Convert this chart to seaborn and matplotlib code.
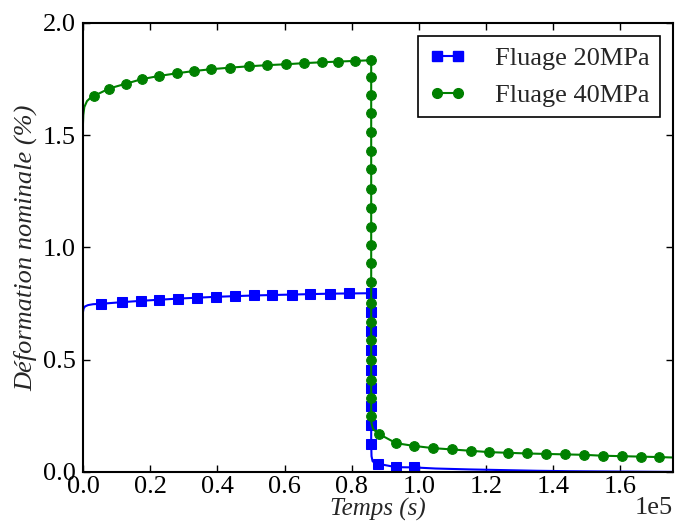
"""Courbes de fluage / recouvrance a 20 et 40 MPa."""

import matplotlib
matplotlib.use("Agg")
import matplotlib.pyplot as plt
from matplotlib.lines import Line2D
import seaborn as sns

# temps en unites de 1e5 s, deformation en %
# --- Fluage 20MPa : points marques
t20_mark = [0.055, 0.115, 0.172, 0.227, 0.283, 0.340, 0.396, 0.453, 0.510, 0.563,
            0.623, 0.677, 0.736, 0.793, 0.858,
            0.858, 0.858, 0.858, 0.858, 0.858, 0.858, 0.858, 0.858,
            0.879, 0.932, 0.984]
e20_mark = [0.749, 0.756, 0.762, 0.767, 0.772, 0.776, 0.780, 0.783, 0.786, 0.788,
            0.790, 0.792, 0.794, 0.795, 0.796,
            0.711, 0.626, 0.545, 0.455, 0.374, 0.293, 0.207, 0.124,
            0.036, 0.021, 0.020]
# --- Fluage 20MPa : courbe complete
t20_line = [0.0, 0.002, 0.006, 0.015, 0.030] + t20_mark[:23] + [0.859, 0.862, 0.868] \
    + t20_mark[23:] + [1.05, 1.15, 1.25, 1.35, 1.45, 1.55, 1.65, 1.757]
e20_line = [0.712, 0.728, 0.737, 0.743, 0.747] + e20_mark[:23] + [0.070, 0.048, 0.040] \
    + e20_mark[23:] + [0.015, 0.011, 0.008, 0.005, 0.003, 0.002, 0.001, 0.0]

# --- Fluage 40MPa : points marques
t40_mark = [0.033, 0.078, 0.129, 0.176, 0.227, 0.280, 0.331, 0.382, 0.438, 0.494,
            0.548, 0.604, 0.658, 0.712, 0.760, 0.810, 0.858,
            0.858, 0.858, 0.858, 0.858, 0.858, 0.858, 0.858, 0.858, 0.858, 0.858,
            0.858, 0.858, 0.858, 0.858, 0.858, 0.858, 0.858, 0.858, 0.858,
            0.882, 0.932, 0.984, 1.041, 1.098, 1.154, 1.210, 1.266, 1.323, 1.378,
            1.435, 1.492, 1.547, 1.604, 1.660, 1.716]
e40_mark = [1.675, 1.708, 1.730, 1.750, 1.764, 1.776, 1.786, 1.794, 1.801, 1.807,
            1.812, 1.816, 1.821, 1.825, 1.828, 1.831, 1.834,
            1.758, 1.679, 1.598, 1.515, 1.430, 1.348, 1.262, 1.177, 1.092, 1.009,
            0.932, 0.845, 0.753, 0.668, 0.586, 0.497, 0.411, 0.329, 0.247,
            0.168, 0.128, 0.116, 0.106, 0.100, 0.094, 0.088, 0.085, 0.082, 0.080,
            0.078, 0.076, 0.072, 0.070, 0.068, 0.066]
# --- Fluage 40MPa : courbe complete
t40_line = [0.0, 0.001, 0.004, 0.012, 0.022] + t40_mark[:36] + [0.859, 0.864] \
    + t40_mark[36:] + [1.757]
e40_line = [1.550, 1.590, 1.625, 1.652, 1.666] + e40_mark[:36] + [0.215, 0.190] \
    + e40_mark[36:] + [0.064]

labels = ["Fluage 20MPa", "Fluage 40MPa"]
colors = ["#0000ff", "#008000"]

sns.set_style("ticks")
plt.rcParams['font.family'] = ['Liberation Serif', 'DejaVu Serif']
plt.rcParams['mathtext.fontset'] = 'stix'

fig = plt.figure(figsize=(6.8, 5.22), dpi=100)
ax = fig.add_axes([0.122, 0.096, 0.868, 0.860])

series = [(t20_line, e20_line, t20_mark, e20_mark, 's', 7.5),
          (t40_line, e40_line, t40_mark, e40_mark, 'o', 7)]
handles = []
for (tl, el, tm, em, mk, ms), col, lab in zip(series, colors, labels):
    sns.lineplot(x=[v * 1e5 for v in tl], y=el, ax=ax, color=col, linewidth=1.5,
                 estimator=None, sort=False)
    sns.lineplot(x=[v * 1e5 for v in tm], y=em, ax=ax, color=col, linestyle='none',
                 marker=mk, markersize=ms, markeredgecolor=col,
                 estimator=None, sort=False)
    handles.append(Line2D([], [], color=col, linewidth=1.5, marker=mk,
                          markersize=ms, markeredgecolor=col))

ax.set_xlim(0, 1.757e5)
ax.set_ylim(0, 2.0)
ax.set_yticks([0, 0.5, 1.0, 1.5, 2.0])
ax.set_xticks([i * 0.2e5 for i in range(9)])
ax.ticklabel_format(axis='x', style='sci', scilimits=(0, 0))
ax.tick_params(direction='in', top=True, right=True, length=5, width=1,
               labelsize=19, pad=5, colors='black')
ax.tick_params(axis='x', pad=3)
ax.xaxis.get_offset_text().set_visible(False)
ax.text(1.0, -0.055, "1e5", transform=ax.transAxes, ha='right', va='top', fontsize=19)
for sp in ax.spines.values():
    sp.set_linewidth(1.5)
    sp.set_color('black')

ax.set_xlabel("Temps (s)", fontsize=18, fontstyle='italic', labelpad=0)
ax.set_ylabel("Déformation nominale (%)", fontsize=19, fontstyle='italic', labelpad=4)

leg = ax.legend(handles, labels, loc='upper right', fontsize=19, numpoints=2,
                fancybox=False, framealpha=1, edgecolor='black',
                handlelength=1.4, handletextpad=1.1, borderaxespad=0.5)
leg.get_frame().set_linewidth(1.2)

fig.savefig("out.png", dpi=100)
